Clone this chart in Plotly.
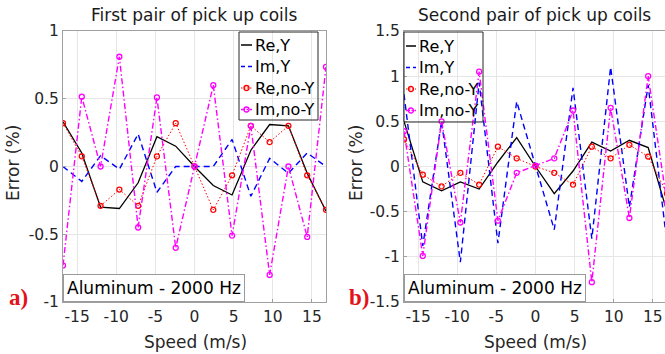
import plotly.graph_objects as go

speed = [-16.8, -14.4, -12.0, -9.6, -7.2, -4.8, -2.4, 0.0, 2.4, 4.8, 7.2, 9.6, 12.0, 14.4, 16.8]

# First pair of pick up coils
re_y_1 = [0.33, 0.10, -0.30, -0.31, -0.12, 0.22, 0.15, 0.0, -0.14, -0.21, 0.12, 0.31, 0.30, -0.05, -0.33]
im_y_1 = [0.0, -0.11, 0.08, -0.02, 0.24, -0.19, 0.0, 0.0, 0.0, 0.20, -0.22, 0.06, -0.05, 0.10, 0.0]
re_noy_1 = [0.32, 0.075, -0.29, -0.17, -0.29, 0.075, 0.32, 0.0, -0.32, -0.065, 0.30, 0.18, 0.30, -0.065, -0.32]
im_noy_1 = [-0.73, 0.515, 0.0, 0.81, -0.45, 0.51, -0.60, 0.0, 0.60, -0.51, 0.30, -0.80, 0.0, -0.52, 0.735]

# Second pair of pick up coils
re_y_2 = [0.5, -0.17, -0.27, -0.17, -0.25, 0.05, 0.32, 0.0, -0.30, -0.05, 0.27, 0.17, 0.29, 0.21, -0.5]
im_y_2 = [0.8, -0.88, 0.5, -1.06, 0.93, -0.85, 0.72, 0.0, -0.70, 0.87, -0.80, 1.10, -0.45, 0.90, -0.85]
re_noy_2 = [0.30, -0.09, -0.22, -0.07, -0.20, 0.22, 0.09, 0.0, -0.07, -0.20, 0.22, 0.09, 0.24, 0.11, -0.30]
im_noy_2 = [0.39, -0.99, 0.50, -0.62, 1.05, -0.60, -0.07, 0.01, 0.09, 0.62, -1.28, 0.65, -0.57, 1.00, -0.40]

series_names = ["Re,Y", "Im,Y", "Re,no-Y", "Im,no-Y"]
titles = ["First pair of pick up coils", "Second pair of pick up coils"]
x_ticks = [-15, -10, -5, 0, 5, 10, 15]
y_ticks_1 = [-1, -0.5, 0, 0.5, 1]
y_ticks_2 = [-1.5, -1, -0.5, 0, 0.5, 1, 1.5]
box_text = "Aluminum - 2000 Hz"
panel_labels = ["a)", "b)"]
x_title = "Speed (m/s)"
y_title = "Error (%)"

FONT = "DejaVu Sans, Liberation Sans, Arial, sans-serif"
W, H = 665, 354

colors = ["#000000", "#0000ff", "#ff0000", "#ff00ff"]
dashes = ["solid", "6px,4px", "1.5px,2px", "6px,2.5px,1.5px,2.5px"]
widths = [1.3, 1.4, 1.0, 1.4]
has_marker = [False, False, True, True]

fig = go.Figure()

sets = [
    (re_y_1, im_y_1, re_noy_1, im_noy_1),
    (re_y_2, im_y_2, re_noy_2, im_noy_2),
]

for p, data in enumerate(sets):
    xa = "x" if p == 0 else "x2"
    ya = "y" if p == 0 else "y2"
    for i, (name, vals) in enumerate(zip(series_names, data)):
        kw = dict(mode="lines+markers" if has_marker[i] else "lines",
                  line=dict(color=colors[i], width=widths[i], dash=dashes[i]))
        if has_marker[i]:
            kw["marker"] = dict(symbol="circle-open", size=5, color=colors[i], line=dict(width=1.3))
        fig.add_trace(go.Scatter(x=speed, y=vals, name=name, xaxis=xa, yaxis=ya,
                                 showlegend=False, cliponaxis=True, **kw))

# plot area pixel geometry
L1, R1 = 63, 326
L2, R2 = 404, 665
TOP, BOT = 31, 302

def px(x):
    return x / W

def py(y):
    return 1 - y / H

axis_common = dict(
    showgrid=True, gridcolor="#e6e6e6", gridwidth=1,
    showline=True, linecolor="#a0a0a0", linewidth=1, mirror=True,
    ticks="inside", ticklen=3, tickcolor="#a0a0a0",
    zeroline=False, automargin=False,
    tickfont=dict(family=FONT, size=15.5, color="#262626"),
)

fig.update_layout(
    template="none",
    width=W, height=H,
    margin=dict(l=0, r=0, t=0, b=0, pad=0),
    paper_bgcolor="white", plot_bgcolor="white",
    showlegend=False,
    xaxis=dict(domain=[px(L1), px(R1)], range=[-16.8, 16.8], anchor="y",
               tickvals=x_ticks, ticktext=["%g" % v for v in x_ticks], **axis_common),
    yaxis=dict(domain=[py(BOT), py(TOP)], range=[-1, 1], anchor="x",
               tickvals=y_ticks_1, ticktext=["%g" % v for v in y_ticks_1], **axis_common),
    xaxis2=dict(domain=[px(L2), px(R2)], range=[-16.8, 16.55], anchor="y2",
                tickvals=x_ticks, ticktext=["%g" % v for v in x_ticks], **axis_common),
    yaxis2=dict(domain=[py(BOT), py(TOP)], range=[-1.5, 1.5], anchor="x2",
                tickvals=y_ticks_2, ticktext=["%g" % v for v in y_ticks_2], **axis_common),
)

ann = []
shapes = []
# titles
for cx, t in zip([194.5, 534.5], titles):
    ann.append(dict(x=px(cx), y=py(15), xref="paper", yref="paper", text=t, showarrow=False,
                    font=dict(family=FONT, size=17, color="#1a1a1a"), xanchor="center", yanchor="middle"))
# x titles
for cx in [195, 535]:
    ann.append(dict(x=px(cx), y=py(342), xref="paper", yref="paper", text=x_title, showarrow=False,
                    font=dict(family=FONT, size=17, color="#262626"), xanchor="center", yanchor="middle"))
# y titles
for cx in [13, 356]:
    ann.append(dict(x=px(cx), y=py(163), xref="paper", yref="paper", text=y_title, showarrow=False,
                    textangle=-90, font=dict(family=FONT, size=17, color="#262626"),
                    xanchor="center", yanchor="middle"))
# boxed texts
for x0 in [L1, L2]:
    ann.append(dict(x=px(x0), y=py(BOT), xref="paper", yref="paper", text=box_text, showarrow=False,
                    xanchor="left", yanchor="bottom", bgcolor="white", bordercolor="#9a9a9a",
                    borderwidth=1, borderpad=3,
                    font=dict(family=FONT, size=17, color="#000000")))
# panel labels
for cx, lab in zip([18, 359], panel_labels):
    ann.append(dict(x=px(cx), y=py(297), xref="paper", yref="paper", text="<b>%s</b>" % lab,
                    showarrow=False, xanchor="center", yanchor="middle",
                    font=dict(family="Liberation Serif, Times New Roman, serif", size=23, color="#e3121b")))

# legends (drawn in paper space)
legend_boxes = [
    dict(x0=239, x1=318, y0=32, y1=120, sx0=241, sx1=252, tx=253, rows=[45, 66.5, 88, 109.5]),
    dict(x0=404, x1=483, y0=32, y1=122, sx0=406, sx1=416, tx=417, rows=[46, 67.5, 89, 110.5]),
]
legend_dashes = ["solid", "4px,3px", "1.5px,1.5px", "4px,1.5px,1.5px,1.5px"]
for lb in legend_boxes:
    shapes.append(dict(type="rect", xref="paper", yref="paper",
                       x0=px(lb["x0"]), x1=px(lb["x1"]), y0=py(lb["y1"]), y1=py(lb["y0"]),
                       line=dict(color="#262626", width=1), fillcolor="rgba(255,255,255,0)"))
    for i, name in enumerate(series_names):
        ry = lb["rows"][i]
        shapes.append(dict(type="line", xref="paper", yref="paper",
                           x0=px(lb["sx0"]), x1=px(lb["sx1"]), y0=py(ry), y1=py(ry),
                           line=dict(color=colors[i], width=widths[i] + 0.2, dash=legend_dashes[i])))
        if has_marker[i]:
            cx = (lb["sx0"] + lb["sx1"]) / 2
            shapes.append(dict(type="circle", xref="paper", yref="paper",
                               x0=px(cx - 2.5), x1=px(cx + 2.5), y0=py(ry + 2.5), y1=py(ry - 2.5),
                               line=dict(color=colors[i], width=1.3), fillcolor="rgba(255,255,255,0)"))
        ann.append(dict(x=px(lb["tx"]), y=py(ry), xref="paper", yref="paper", text=name,
                        showarrow=False, xanchor="left", yanchor="middle",
                        font=dict(family=FONT, size=16, color="#000000")))

fig.update_layout(annotations=ann, shapes=shapes)

fig.write_html("out.html",
               config={"displayModeBar": False},
               post_script="document.body.style.margin='0px';document.body.style.padding='0px';"
                           "document.body.style.overflow='hidden';")
